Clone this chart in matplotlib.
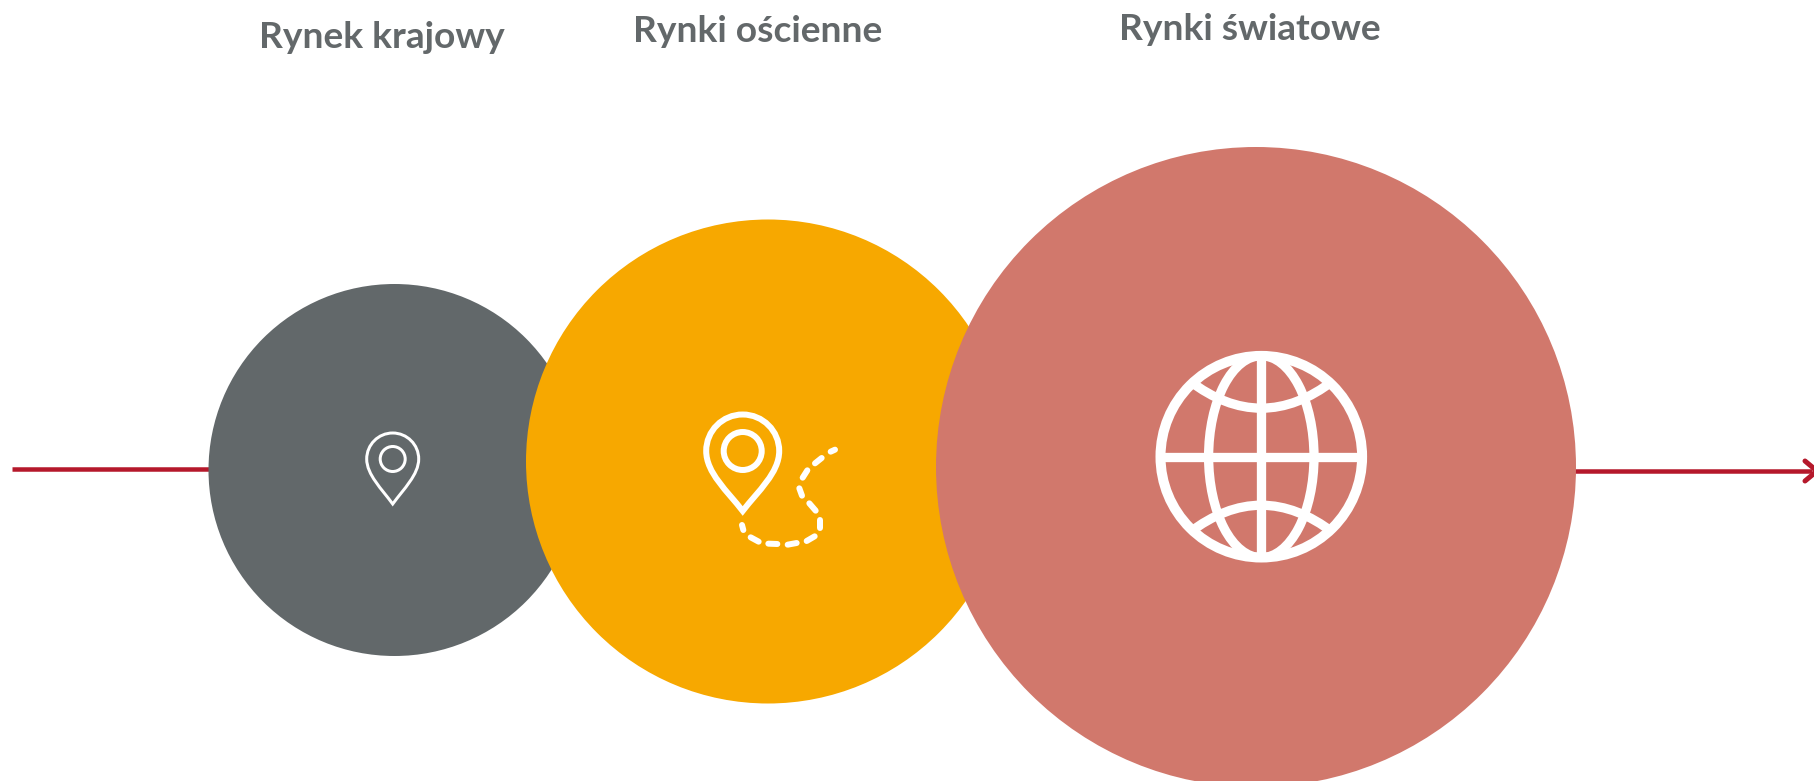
import matplotlib
matplotlib.use('Agg')
import matplotlib.pyplot as plt
from matplotlib.patches import Circle, Ellipse, PathPatch
from matplotlib.path import Path

etykiety = ['Rynek krajowy', 'Rynki ościenne', 'Rynki światowe']
kolory = ['#62686a', '#f7a800', '#d1786c']
promienie = [186, 242, 320]
srodki_x = [394.5, 768, 1256]
srodki_y = [470, 461.5, 467]
etykiety_x = [381.5, 758, 1249.5]
etykiety_y = [37, 31, 29]

KOLOR_TEKST = '#63686a'
KOLOR_LINIA = '#b5182b'

PX = 72 / 100  # px -> pt


def pinezka(ax, cx, cy, r, tip, r_in, lw):
    k = 0.5523 * r
    ym = cy + 0.667 * (tip - cy)
    verts = [(cx, tip),
             (cx - 0.42 * r, ym), (cx - r, cy + 0.6 * r), (cx - r, cy),
             (cx - r, cy - k), (cx - k, cy - r), (cx, cy - r),
             (cx + k, cy - r), (cx + r, cy - k), (cx + r, cy),
             (cx + r, cy + 0.6 * r), (cx + 0.42 * r, ym), (cx, tip),
             (cx, tip)]
    codes = [Path.MOVETO] + [Path.CURVE4] * 12 + [Path.CLOSEPOLY]
    ax.add_patch(PathPatch(Path(verts, codes), fc='none', ec='white', lw=lw * PX,
                           joinstyle='miter', zorder=3))
    ax.add_patch(Circle((cx, cy), r_in, fc='none', ec='white', lw=lw * PX, zorder=3))


fig = plt.figure(figsize=(18.14, 7.81), dpi=100, facecolor='white')
ax = fig.add_axes([0, 0, 1, 1])
ax.set_xlim(0, 1814)
ax.set_ylim(781, 0)
ax.axis('off')

# linia i strzalka (pod kolami)
ax.plot([12, 300], [469, 469], color=KOLOR_LINIA, lw=4.5 * PX, solid_capstyle='butt', zorder=0)
ax.plot([1500, 1812], [471, 471], color=KOLOR_LINIA, lw=4.5 * PX, solid_capstyle='butt', zorder=0)
ax.plot([1805, 1817, 1805], [461, 471, 481], color=KOLOR_LINIA, lw=5 * PX,
        solid_capstyle='round', solid_joinstyle='round', zorder=0)

# kola
for x, y, r, c in zip(srodki_x, srodki_y, promienie, kolory):
    ax.add_patch(Circle((x, y), r, fc=c, ec='none', zorder=1))

for x, y, t in zip(etykiety_x, etykiety_y, etykiety):
    ax.text(x, y, t, ha='center', va='center', fontsize=26.7, fontweight='bold',
            family='Lato', color=KOLOR_TEKST)

# ikona 1
pinezka(ax, 392.7, 459, 26, 504, 12.5, 3)

# ikona 2
pinezka(ax, 742.7, 451, 36.5, 511, 19, 6)
kreski = [((452, 185), (465, 179)), ((405, 220), (425, 204)), ((368, 263), (382, 241)),
          ((358, 295), (366, 317)), ((388, 340), (407, 362)), ((421, 390), (421, 414)),
          ((380, 453), (404, 439)), ((323, 464), (350, 459)), ((265, 461), (292, 462)),
          ((212, 442), (236, 455)), ((186, 405), (190, 420))]
for a, b in kreski:
    ax.plot([680 + a[0] / 3, 680 + b[0] / 3], [390 + a[1] / 3, 390 + b[1] / 3],
            color='white', lw=6 * PX, solid_capstyle='round', zorder=3)

# ikona 3 - globus
gx, gy, gr, glw = 1261.3, 456.7, 100.8, 9.3
maska = Circle((gx, gy), gr, transform=ax.transData)
czesci = []
czesci.append(ax.plot([gx, gx], [gy - gr, gy + gr], color='white', lw=glw * PX,
                      solid_capstyle='butt', zorder=3)[0])
czesci.append(ax.plot([gx - gr, gx + gr], [gy, gy], color='white', lw=glw * PX,
                      solid_capstyle='butt', zorder=3)[0])
czesci.append(ax.add_patch(Ellipse((gx, gy), 105.4, 202, fc='none', ec='white',
                                   lw=glw * PX, zorder=3)))
for znak in (-1, 1):
    verts = [(gx - 72, gy + znak * 76), (gx, gy + znak * 21), (gx + 72, gy + znak * 76)]
    czesci.append(ax.add_patch(PathPatch(Path(verts, [Path.MOVETO, Path.CURVE3, Path.CURVE3]),
                                         fc='none', ec='white', lw=glw * PX, zorder=3)))
for c in czesci:
    c.set_clip_path(maska)
ax.add_patch(Circle((gx, gy), gr, fc='none', ec='white', lw=10 * PX, zorder=3))

fig.savefig('out.png', dpi=100)
